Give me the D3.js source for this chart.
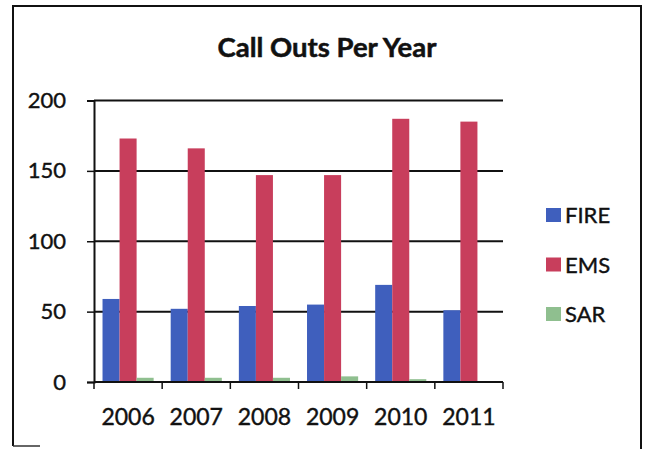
<!DOCTYPE html>
<html>
<head>
<meta charset="utf-8">
<script src="https://cdn.jsdelivr.net/npm/d3@7"></script>
<style>
  html, body { margin: 0; padding: 0; background: #fff; }
  svg { display: block; }
  text { font-family: Lato, "Open Sans", sans-serif; fill: #111; }
</style>
</head>
<body>
<svg id="chart" width="647" height="449"></svg>
<script>
// Annual call-out counts by type
const years = ["2006", "2007", "2008", "2009", "2010", "2011"];
const fire = [59, 52, 54, 55, 69, 51];
const ems  = [173, 166, 147, 147, 187, 185];
const sar  = [3, 3, 3, 4, 2, 0];
const seriesNames = ["FIRE", "EMS", "SAR"];
const seriesColors = ["#3f5fbd", "#c83e5c", "#8fbf8f"];
const yTicks = [0, 50, 100, 150, 200];

const seriesValues = [fire, ems, sar];

const svg = d3.select("#chart");
const plot = { left: 94, right: 503, top: 100.5, bottom: 382 };

// Frame around the chart
svg.append("path")
  .attr("d", `M13,446 L13,6 L641,6 L641,449`)
  .attr("fill", "none")
  .attr("stroke", "#111")
  .attr("stroke-width", 2);
svg.append("line")
  .attr("x1", 13).attr("x2", 40).attr("y1", 446).attr("y2", 446)
  .attr("stroke", "#333").attr("stroke-width", 1.5);

// Title
svg.append("text")
  .attr("x", 327).attr("y", 57)
  .attr("text-anchor", "middle")
  .attr("font-weight", "bold")
  .attr("font-size", 27.5)
  .attr("stroke", "#111").attr("stroke-width", 0.5)
  .text("Call Outs Per Year");

// Scales
const x0 = d3.scaleBand()
  .domain(years)
  .range([plot.left, plot.right])
  .paddingInner(0.25)
  .paddingOuter(0.125);
const x1 = d3.scaleBand()
  .domain(seriesNames)
  .range([0, x0.bandwidth()]);
const y = d3.scaleLinear()
  .domain([0, 200])
  .range([plot.bottom, plot.top]);

// Horizontal gridlines
svg.append("g")
  .selectAll("line")
  .data(yTicks.filter(t => t > 0))
  .join("line")
  .attr("x1", plot.left).attr("x2", plot.right)
  .attr("y1", d => y(d)).attr("y2", d => y(d))
  .attr("stroke", "#111")
  .attr("stroke-width", 2);

// Bars
const rows = years.map((yr, i) => ({
  year: yr,
  values: seriesNames.map((s, j) => ({ key: s, value: seriesValues[j][i], color: seriesColors[j] }))
}));

svg.append("g")
  .selectAll("g")
  .data(rows)
  .join("g")
  .attr("transform", d => `translate(${x0(d.year)},0)`)
  .selectAll("rect")
  .data(d => d.values)
  .join("rect")
  .attr("x", d => x1(d.key))
  .attr("width", x1.bandwidth())
  .attr("y", d => y(d.value))
  .attr("height", d => y(0) - y(d.value))
  .attr("fill", d => d.color);

// Y axis
const yAxis = d3.axisLeft(y)
  .tickValues(yTicks)
  .tickSize(7)
  .tickPadding(21);
const gy = svg.append("g")
  .attr("transform", `translate(${plot.left},0)`)
  .call(yAxis);
gy.select(".domain").attr("stroke", "#111").attr("stroke-width", 2);
gy.selectAll(".tick line").attr("stroke", "#111").attr("stroke-width", 1.5);
gy.selectAll(".tick text")
  .attr("font-family", "Lato, sans-serif")
  .attr("font-size", 22)
  .attr("fill", "#111")
  .attr("stroke", "#111").attr("stroke-width", 0.4);

// X axis: labels at category centres, ticks at category boundaries
const xAxis = d3.axisBottom(x0).tickSize(0).tickPadding(43);
const gx = svg.append("g")
  .attr("transform", `translate(0,${plot.bottom})`)
  .call(xAxis);
gx.select(".domain").remove();
gx.selectAll(".tick text")
  .attr("font-family", "Lato, sans-serif")
  .attr("font-size", 23)
  .attr("fill", "#111")
  .attr("stroke", "#111").attr("stroke-width", 0.4)
  .attr("dy", "0");

svg.append("line")
  .attr("x1", plot.left).attr("x2", plot.right)
  .attr("y1", plot.bottom).attr("y2", plot.bottom)
  .attr("stroke", "#111").attr("stroke-width", 2);

const step = x0.step();
const boundaries = d3.range(years.length + 1).map(i => plot.left + i * step);
svg.append("g")
  .selectAll("line")
  .data(boundaries)
  .join("line")
  .attr("x1", d => d).attr("x2", d => d)
  .attr("y1", plot.bottom).attr("y2", plot.bottom + 7)
  .attr("stroke", "#111").attr("stroke-width", 1.5);

// Legend
const legend = svg.append("g");
const items = legend.selectAll("g")
  .data(seriesNames.map((s, i) => ({ name: s, color: seriesColors[i] })))
  .join("g")
  .attr("transform", (d, i) => `translate(546,${208 + i * 49.5})`);
items.append("rect")
  .attr("width", 15).attr("height", 14)
  .attr("fill", d => d.color);
items.append("text")
  .attr("x", 19).attr("y", 15)
  .attr("font-size", 22)
  .attr("stroke", "#111").attr("stroke-width", 0.4)
  .text(d => d.name);
</script>
</body>
</html>
